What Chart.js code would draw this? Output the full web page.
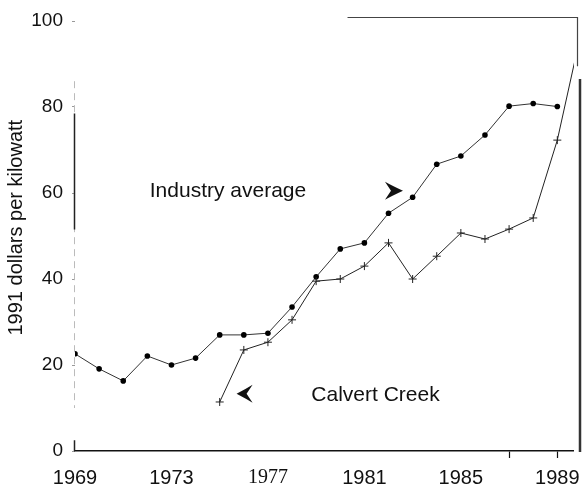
<!DOCTYPE html>
<html>
<head>
<meta charset="utf-8">
<script src="https://cdn.jsdelivr.net/npm/chart.js@4.4.0/dist/chart.umd.min.js"></script>
<style>
  html, body { margin: 0; padding: 0; background: #fff; }
  #wrap { width: 584px; height: 488px; }
</style>
</head>
<body>
<div id="wrap"><canvas id="costChart" width="584" height="488"></canvas></div>
<script>
// Chart data
const years = [1969, 1970, 1971, 1972, 1973, 1974, 1975, 1976, 1977, 1978, 1979,
  1980, 1981, 1982, 1983, 1984, 1985, 1986, 1987, 1988, 1989, 1990];
const industryAverage = [22.6, 19.1, 16.3, 22.1, 20.0, 21.6, 27.0, 27.0, 27.4, 33.5, 40.5,
  47.0, 48.4, 55.3, 59.0, 66.7, 68.6, 73.5, 80.2, 80.8, 80.1, null];
const calvertCreek = [null, null, null, null, null, null, 11.4, 23.5, 25.3, 30.5, 39.5,
  40.0, 43.0, 48.4, 40.0, 45.3, 50.7, 49.3, 51.6, 54.2, 72.3, 97.7];
const xTickLabels = [1969, 1973, 1977, 1981, 1985, 1989];
const xTickMarks = [1987, 1989];
const yTicks = [0, 20, 40, 60, 80, 100];

const FONT = '"Liberation Sans", Arial, Helvetica, sans-serif';

// Notes drawn on the plot (in data units)
const notes = [
  { text: 'Industry average', textAt: [1972.1, 60.5], tip: [1982.6, 60.5], dir: 1, len: 18 },
  { text: 'Calvert Creek', textAt: [1978.8, 13.0], tip: [1975.7, 13.3], dir: -1, len: 16 }
];

function toPoints(values) {
  const pts = [];
  values.forEach((v, i) => {
    if (v !== null) pts.push({ x: years[i], y: v });
  });
  return pts;
}

// Labels and arrowheads
const notesPlugin = {
  id: 'notes',
  afterDatasetsDraw(chart) {
    const { ctx, scales: { x, y } } = chart;
    ctx.save();
    ctx.font = '21px ' + FONT;
    ctx.fillStyle = '#111';
    ctx.textBaseline = 'middle';
    notes.forEach(n => {
      ctx.fillText(n.text, x.getPixelForValue(n.textAt[0]), y.getPixelForValue(n.textAt[1]));
      const tx = x.getPixelForValue(n.tip[0]);
      const ty = y.getPixelForValue(n.tip[1]);
      const d = n.dir;
      ctx.beginPath();
      ctx.moveTo(tx, ty);
      ctx.quadraticCurveTo(tx - d * n.len * 0.6, ty - 5, tx - d * n.len, ty - 9);
      ctx.lineTo(tx - d * (n.len - 6), ty);
      ctx.lineTo(tx - d * n.len, ty + 9);
      ctx.quadraticCurveTo(tx - d * n.len * 0.6, ty + 5, tx, ty);
      ctx.closePath();
      ctx.fill();
    });
    ctx.restore();
  }
};

// Broken left axis and the partial frame of the original figure
const framePlugin = {
  id: 'frame',
  afterDraw(chart) {
    const { ctx, chartArea: a, scales: { x, y } } = chart;
    ctx.save();
    // left axis: faint dashed with a solid stretch
    ctx.strokeStyle = '#bbb';
    ctx.lineWidth = 1;
    ctx.setLineDash([7, 5]);
    ctx.beginPath();
    ctx.moveTo(a.left - 0.5, y.getPixelForValue(86));
    ctx.lineTo(a.left - 0.5, y.getPixelForValue(10));
    ctx.stroke();
    ctx.setLineDash([]);
    ctx.strokeStyle = '#222';
    ctx.lineWidth = 1.5;
    ctx.beginPath();
    ctx.moveTo(a.left - 0.5, y.getPixelForValue(78.5));
    ctx.lineTo(a.left - 0.5, y.getPixelForValue(51.5));
    ctx.moveTo(a.left - 0.5, y.getPixelForValue(2.5));
    ctx.lineTo(a.left - 0.5, y.getPixelForValue(0));
    ctx.stroke();
    // top-right frame
    ctx.strokeStyle = '#444';
    ctx.lineWidth = 1.2;
    const topY = y.getPixelForValue(100) - 3.5;
    ctx.beginPath();
    ctx.moveTo(x.getPixelForValue(1980.3), topY);
    ctx.lineTo(a.right + 4.5, topY);
    ctx.lineTo(a.right + 4.5, y.getPixelForValue(89.5));
    ctx.stroke();
    ctx.strokeStyle = '#333';
    ctx.lineWidth = 2.5;
    ctx.beginPath();
    ctx.moveTo(a.right + 7, y.getPixelForValue(86.5));
    ctx.lineTo(a.right + 7, a.bottom + 1);
    ctx.stroke();
    ctx.restore();
  }
};

const ctx = document.getElementById('costChart');
new Chart(ctx, {
  type: 'line',
  data: {
    datasets: [
      {
        label: 'Calvert Creek',
        data: toPoints(calvertCreek),
        borderColor: '#222',
        borderWidth: 1,
        pointStyle: 'cross',
        pointRadius: 4,
        pointBorderColor: '#222',
        pointBorderWidth: 1,
        tension: 0,
        clip: { left: 6, top: 6, right: 1, bottom: 6 }
      },
      {
        label: 'Industry average',
        data: toPoints(industryAverage),
        borderColor: '#333',
        borderWidth: 1,
        pointStyle: 'circle',
        pointRadius: 2.8,
        pointBackgroundColor: '#000',
        pointBorderColor: '#000',
        pointBorderWidth: 0,
        tension: 0
      }
    ]
  },
  options: {
    responsive: false,
    animation: false,
    layout: { autoPadding: false, padding: { top: 21, right: 11, left: 0, bottom: 0 } },
    plugins: {
      legend: { display: false },
      tooltip: { enabled: false }
    },
    scales: {
      x: {
        type: 'linear',
        min: 1969,
        max: 1989.65,
        afterBuildTicks: scale => {
          scale.ticks = years.filter(v => v <= 1989).map(v => ({ value: v }));
        },
        afterFit: scale => {
          scale.height = 37;
          scale.paddingLeft = 0;
          scale.paddingRight = 0;
        },
        border: { display: true, color: '#111', width: 1.5 },
        grid: {
          drawOnChartArea: false,
          drawTicks: true,
          tickLength: 7,
          tickWidth: 1.2,
          tickColor: c => xTickMarks.includes(c.tick.value) ? '#111' : 'rgba(0,0,0,0)'
        },
        ticks: {
          autoSkip: false,
          maxRotation: 0,
          padding: 8,
          color: '#111',
          font: c => (c.tick && c.tick.value === 1977)
            ? { family: '"Liberation Serif", "Times New Roman", serif', size: 20 }
            : { family: FONT, size: 20 },
          callback: v => xTickLabels.includes(v) ? String(v) : ''
        }
      },
      y: {
        min: 0,
        max: 100,
        afterBuildTicks: scale => {
          scale.ticks = yTicks.map(v => ({ value: v }));
        },
        afterFit: scale => {
          scale.width = 75;
          scale.paddingTop = 0;
          scale.paddingBottom = 0;
        },
        border: { display: false },
        grid: {
          drawOnChartArea: false,
          drawTicks: true,
          tickLength: 3,
          tickColor: '#999'
        },
        ticks: {
          padding: 9,
          color: '#111',
          font: { family: FONT, size: 19 }
        },
        title: {
          display: true,
          // leading spaces nudge the label up a little, as in the original
          text: '   1991 dollars per kilowatt',
          color: '#111',
          font: { family: FONT, size: 20 },
          padding: { top: 4, bottom: 0 }
        }
      }
    }
  },
  plugins: [notesPlugin, framePlugin]
});
</script>
</body>
</html>
